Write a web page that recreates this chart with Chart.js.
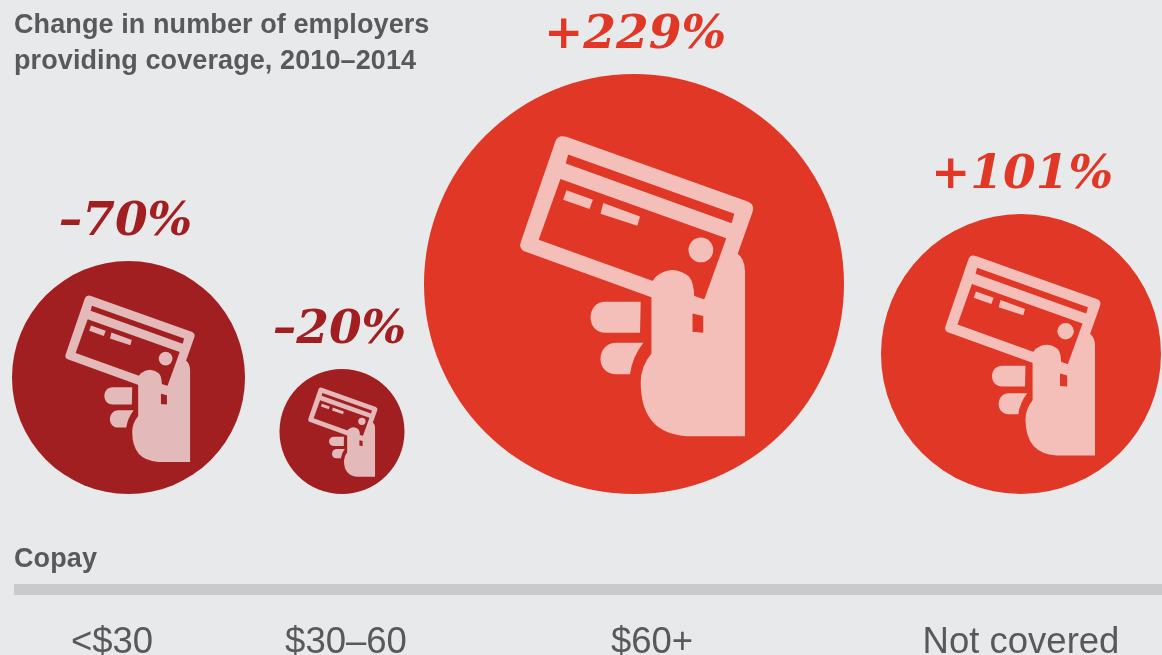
<!DOCTYPE html>
<html>
<head>
<meta charset="utf-8">
<title>Change in number of employers providing coverage</title>
<style>
  html, body { margin: 0; padding: 0; background: #e8e9eb; overflow: hidden; }
  canvas { display: block; }
</style>
<script src="https://cdn.jsdelivr.net/npm/chart.js@4"></script>
</head>
<body>
<canvas id="chart" width="1162" height="655"></canvas>
<script>
// Copay bands and the change in employers providing coverage for each
const categories = ['<$30', '$30–60', '$60+', 'Not covered'];
const changes = [-70, -20, 229, 101];
const bubbleRadii = [116.5, 62.5, 210, 140];
const bubbleCentres = [128.5, 342, 634, 1021];
const labelCentres = [125.5, 339.5, 635, 1022];
const tickCentres = [112, 346, 652, 1021];
const titleLines = ['Change in number of employers', 'providing coverage, 2010–2014'];
const axisTitle = 'Copay';

const INK = '#58595b';
const DARK_RED = '#a21f21';
const RED = '#e03726';
const DARK_RED_TINT = '#e3b9b9';
const RED_TINT = '#f5bfb9';

const isDown = v => v < 0;
const formatChange = v => (v < 0 ? '–' : '+') + Math.abs(v) + '%';

// Card-in-hand icon, outlined on a 1256-unit square centred on (640, 672)
const ICON = { cx: 640, cy: 672, unit: 628 };

function iconPoint(ctx, fn, pts) {
  const c = pts.map((v, i) => (v - (i % 2 ? ICON.cy : ICON.cx)) / ICON.unit);
  ctx[fn](...c);
}

function polygon(ctx, pts) {
  ctx.beginPath();
  pts.forEach((p, i) => iconPoint(ctx, i ? 'lineTo' : 'moveTo', p));
  ctx.closePath();
  ctx.fill();
}

function drawIcon(ctx, x, y, r, tint, base) {
  ctx.save();
  ctx.translate(x, y);
  ctx.scale(r, r);

  // Card body
  ctx.fillStyle = tint;
  ctx.beginPath();
  iconPoint(ctx, 'moveTo', [438, 232]);
  iconPoint(ctx, 'lineTo', [980, 425]);
  iconPoint(ctx, 'quadraticCurveTo', [1002, 433, 995, 455]);
  iconPoint(ctx, 'lineTo', [880, 780]);
  iconPoint(ctx, 'lineTo', [312, 574]);
  iconPoint(ctx, 'quadraticCurveTo', [294, 566, 302, 545]);
  iconPoint(ctx, 'lineTo', [405, 245]);
  iconPoint(ctx, 'quadraticCurveTo', [413, 224, 438, 232]);
  ctx.closePath();
  ctx.fill();

  // Magnetic stripe and face of the card
  ctx.fillStyle = base;
  polygon(ctx, [[443, 285], [940, 462], [932, 490], [436, 312]]);
  polygon(ctx, [[420, 358], [916, 535], [850, 718], [355, 540]]);

  // Printed details on the card
  ctx.fillStyle = tint;
  polygon(ctx, [[438, 392], [517, 420], [507, 448], [428, 420]]);
  polygon(ctx, [[548, 430], [658, 470], [650, 498], [540, 462]]);
  ctx.beginPath();
  const c = [(840 - ICON.cx) / ICON.unit, (570 - ICON.cy) / ICON.unit];
  ctx.arc(c[0], c[1], 37 / ICON.unit, 0, Math.PI * 2);
  ctx.fill();

  // Palm and thumb
  ctx.beginPath();
  iconPoint(ctx, 'moveTo', [945, 578]);
  iconPoint(ctx, 'quadraticCurveTo', [972, 595, 972, 635]);
  iconPoint(ctx, 'lineTo', [972, 1127]);
  iconPoint(ctx, 'lineTo', [800, 1127]);
  iconPoint(ctx, 'quadraticCurveTo', [660, 1120, 660, 965]);
  iconPoint(ctx, 'quadraticCurveTo', [660, 920, 692, 880]);
  iconPoint(ctx, 'lineTo', [692, 712]);
  iconPoint(ctx, 'quadraticCurveTo', [678, 680, 705, 650]);
  iconPoint(ctx, 'quadraticCurveTo', [755, 610, 805, 650]);
  iconPoint(ctx, 'quadraticCurveTo', [820, 670, 820, 712]);
  iconPoint(ctx, 'lineTo', [850, 718]);
  ctx.closePath();
  ctx.fill();

  // Fingers
  ctx.beginPath();
  iconPoint(ctx, 'moveTo', [660, 725]);
  iconPoint(ctx, 'lineTo', [555, 725]);
  iconPoint(ctx, 'bezierCurveTo', [495, 725, 495, 818, 555, 818]);
  iconPoint(ctx, 'lineTo', [658, 818]);
  ctx.closePath();
  ctx.fill();

  ctx.beginPath();
  iconPoint(ctx, 'moveTo', [668, 848]);
  iconPoint(ctx, 'lineTo', [585, 848]);
  iconPoint(ctx, 'bezierCurveTo', [525, 850, 525, 942, 585, 942]);
  iconPoint(ctx, 'lineTo', [628, 942]);
  iconPoint(ctx, 'quadraticCurveTo', [635, 890, 668, 848]);
  ctx.closePath();
  ctx.fill();

  // Gap between the fingers gripping the card
  ctx.fillStyle = base;
  polygon(ctx, [[815, 760], [847, 768], [847, 818], [815, 815]]);

  ctx.restore();
}

const annotations = {
  id: 'annotations',
  beforeDatasetsDraw(chart) {
    const { ctx, chartArea, scales } = chart;
    ctx.save();
    // Rule under the "Copay" heading, running to the right edge
    ctx.fillStyle = '#c9cbca';
    const left = scales.x.getPixelForValue(14);
    ctx.fillRect(left, chartArea.bottom, chartArea.right - left, 11);

    ctx.fillStyle = INK;
    ctx.textAlign = 'left';
    ctx.textBaseline = 'alphabetic';
    ctx.font = 'bold 27px "Liberation Sans"';
    ctx.letterSpacing = '0.1px';
    titleLines.forEach((line, i) => ctx.fillText(line, 14, 33 + i * 36));
    ctx.fillText(axisTitle, 14, 567);
    ctx.letterSpacing = '0px';
    ctx.restore();
  },
  afterDatasetsDraw(chart) {
    const { ctx, scales } = chart;
    const meta = chart.getDatasetMeta(0);
    meta.data.forEach((pt, i) => {
      const down = isDown(changes[i]);
      const r = bubbleRadii[i];
      drawIcon(ctx, pt.x, pt.y, r, down ? DARK_RED_TINT : RED_TINT, down ? DARK_RED : RED);

      ctx.save();
      ctx.fillStyle = down ? DARK_RED : RED;
      ctx.font = 'italic bold 47px "DejaVu Serif"';
      ctx.textAlign = 'center';
      ctx.textBaseline = 'alphabetic';
      ctx.fillText(formatChange(changes[i]), scales.x.getPixelForValue(labelCentres[i]), pt.y - r - 26);
      ctx.restore();
    });
  }
};

new Chart(document.getElementById('chart'), {
  type: 'bubble',
  data: {
    datasets: [{
      label: 'Change in number of employers',
      // Bubbles share a common base line, so each centre sits one radius above it
      data: categories.map((c, i) => ({ x: bubbleCentres[i], y: bubbleRadii[i], r: bubbleRadii[i] })),
      backgroundColor: changes.map(v => (isDown(v) ? DARK_RED : RED)),
      borderWidth: 0,
      clip: false
    }]
  },
  options: {
    responsive: false,
    animation: false,
    layout: { padding: 0, autoPadding: false },
    plugins: { legend: { display: false }, tooltip: { enabled: false } },
    scales: {
      x: {
        type: 'linear',
        min: 0,
        max: 1162,
        grid: { display: false },
        border: { display: false },
        afterBuildTicks(axis) {
          axis.ticks = tickCentres.map(value => ({ value }));
        },
        afterFit(axis) { axis.height = 71; },
        ticks: {
          autoSkip: false,
          maxRotation: 0,
          padding: 29,
          color: INK,
          font: { family: '"Liberation Sans"', size: 36.5 },
          callback: (value) => categories[tickCentres.indexOf(value)]
        }
      },
      y: {
        type: 'linear',
        display: false,
        min: -90,
        max: 494
      }
    }
  },
  plugins: [annotations]
});
</script>
</body>
</html>
